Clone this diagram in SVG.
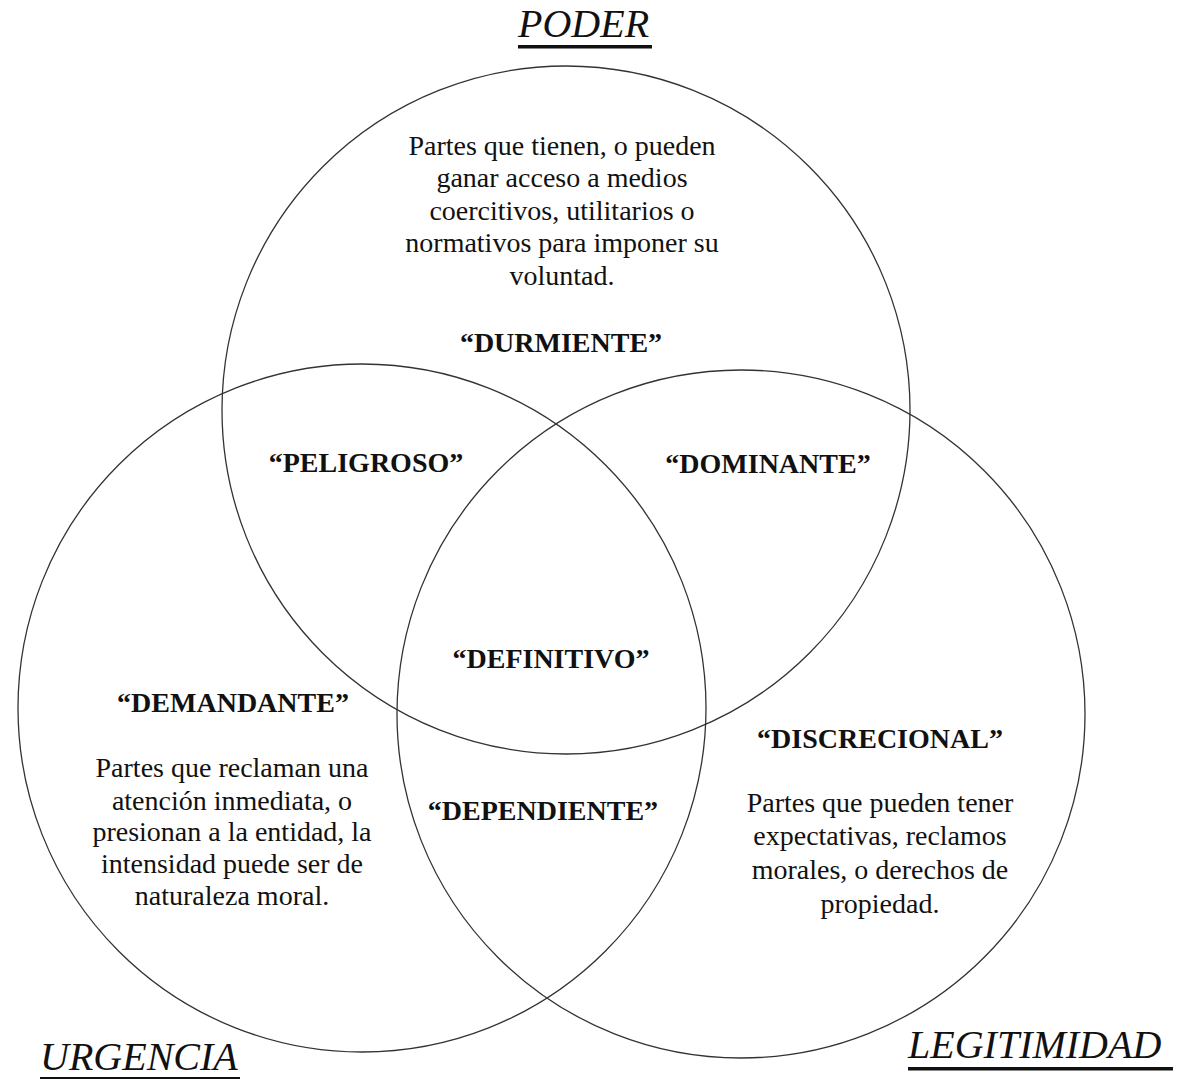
<svg xmlns="http://www.w3.org/2000/svg" width="1190" height="1081" viewBox="0 0 1190 1081">
<style>
.c{fill:none;stroke:#333;stroke-width:1.3}
.t{font-family:"Liberation Serif","Times New Roman",serif;font-size:28px;fill:#111;text-anchor:middle}
.b{font-weight:bold}
.h{font-family:"Liberation Serif","Times New Roman",serif;font-size:40px;font-style:italic;fill:#111}
.u{fill:#111}
</style>
<rect width="1190" height="1081" fill="#fff"/>
<g id="connectors"></g>
<g id="poder">
<circle class="c" cx="566" cy="410" r="344"/>
<text class="h" x="518" y="37">PODER</text>
<rect class="u" x="518" y="45" width="134" height="3.5"/>
<text class="t" x="562"><tspan x="562" y="155">Partes que tienen, o pueden</tspan><tspan x="562" y="187">ganar acceso a medios</tspan><tspan x="562" y="220">coercitivos, utilitarios o</tspan><tspan x="562" y="252">normativos para imponer su</tspan><tspan x="562" y="285">voluntad.</tspan></text>
<text class="t b" x="561" y="352">“DURMIENTE”</text>
</g>
<g id="urgencia">
<circle class="c" cx="362" cy="708" r="344"/>
<text class="h" x="40" y="1070">URGENCIA</text>
<rect class="u" x="40" y="1077" width="200" height="2"/>
<text class="t b" x="233" y="712">“DEMANDANTE”</text>
<text class="t"><tspan x="232" y="777">Partes que reclaman una</tspan><tspan x="232" y="810">atención inmediata, o</tspan><tspan x="232" y="841">presionan a la entidad, la</tspan><tspan x="232" y="873">intensidad puede ser de</tspan><tspan x="232" y="905">naturaleza moral.</tspan></text>
</g>
<g id="legitimidad">
<circle class="c" cx="741" cy="714" r="344"/>
<text class="h" x="908" y="1058">LEGITIMIDAD</text>
<rect class="u" x="908" y="1067" width="265" height="3.5"/>
<text class="t b" x="880" y="748">“DISCRECIONAL”</text>
<text class="t"><tspan x="880" y="812">Partes que pueden tener</tspan><tspan x="880" y="845">expectativas, reclamos</tspan><tspan x="880" y="879">morales, o derechos de</tspan><tspan x="880" y="913">propiedad.</tspan></text>
</g>
<g id="peligroso"><text class="t b" x="366" y="472">“PELIGROSO”</text></g>
<g id="dominante"><text class="t b" x="768" y="473">“DOMINANTE”</text></g>
<g id="definitivo"><text class="t b" x="551" y="668">“DEFINITIVO”</text></g>
<g id="dependiente"><text class="t b" x="543" y="820">“DEPENDIENTE”</text></g>
</svg>
